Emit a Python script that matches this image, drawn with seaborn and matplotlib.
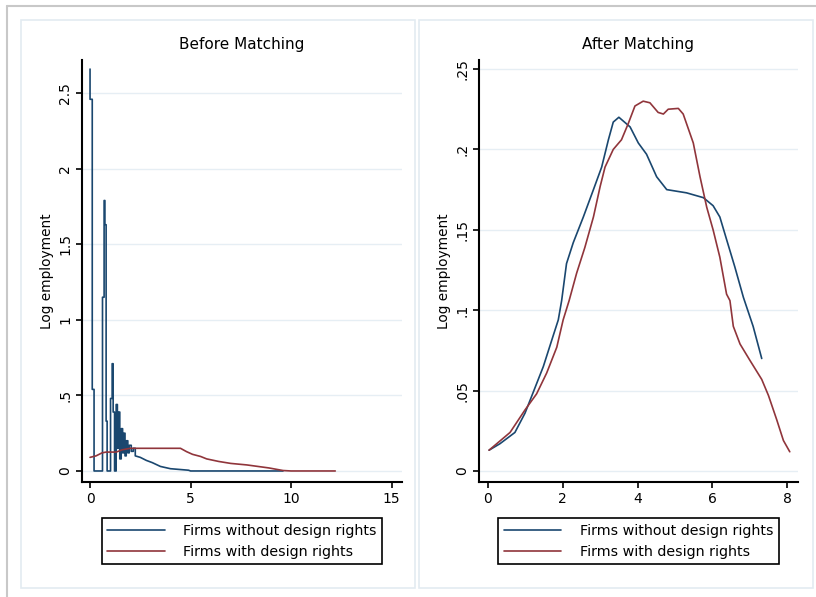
import numpy as np
import pandas as pd
import matplotlib
matplotlib.use("Agg")
import matplotlib.pyplot as plt
from matplotlib.patches import Rectangle
from matplotlib.lines import Line2D
import seaborn as sns

# datos
# Antes del emparejamiento (curva azul con picos)
before_without_x = [0.0, 0.0, 0.11, 0.11, 0.2, 0.2, 0.62, 0.62, 0.7, 0.7, 0.74, 0.74, 0.8, 0.8,
                    0.85, 0.85, 1.02, 1.02, 1.1, 1.1, 1.15, 1.15, 1.22, 1.22, 1.3, 1.3, 1.36, 1.36,
                    1.42, 1.42, 1.48, 1.48, 1.55, 1.55, 1.62, 1.62, 1.68, 1.68, 1.74, 1.74, 1.8, 1.8,
                    1.88, 1.88, 1.95, 1.95, 2.05, 2.05, 2.15, 2.15, 2.25, 2.25, 2.5, 2.8, 3.1, 3.5,
                    4.0, 4.9, 5.0, 9.6]
before_without_y = [2.66, 2.46, 2.46, 0.54, 0.54, 0.0, 0.0, 1.15, 1.15, 1.79, 1.79, 1.63, 1.63, 0.33,
                    0.33, 0.0, 0.0, 0.48, 0.48, 0.71, 0.71, 0.39, 0.39, 0.0, 0.0, 0.44, 0.44, 0.15,
                    0.15, 0.39, 0.39, 0.08, 0.08, 0.28, 0.28, 0.12, 0.12, 0.25, 0.25, 0.1, 0.1, 0.2,
                    0.2, 0.12, 0.12, 0.17, 0.17, 0.13, 0.13, 0.15, 0.15, 0.1, 0.09, 0.07, 0.055, 0.03,
                    0.015, 0.005, 0.0, 0.0]
before_with_x = [0.0, 0.3, 0.6, 0.8, 1.3, 1.6, 2.0, 4.5, 4.8, 5.1, 5.5, 5.8, 6.4, 7.0, 7.8, 8.9,
                 9.6, 10.0, 12.2]
before_with_y = [0.09, 0.1, 0.12, 0.125, 0.125, 0.14, 0.15, 0.15, 0.128, 0.11, 0.096, 0.08, 0.063,
                 0.05, 0.04, 0.02, 0.003, 0.0, 0.0]

# Despues del emparejamiento
after_without_x = [0.03, 0.32, 0.72, 0.99, 1.21, 1.48, 1.7, 1.88, 1.97, 2.1, 2.28, 2.55, 2.82, 3.04,
                   3.22, 3.35, 3.5, 3.8, 4.02, 4.24, 4.51, 4.78, 5.31, 5.76, 6.02, 6.2, 6.38, 6.6,
                   6.83, 7.09, 7.32]
after_without_y = [0.013, 0.017, 0.024, 0.036, 0.049, 0.065, 0.081, 0.094, 0.106, 0.129, 0.142, 0.158,
                   0.175, 0.189, 0.206, 0.217, 0.22, 0.214, 0.204, 0.197, 0.183, 0.175, 0.173, 0.17,
                   0.165, 0.158, 0.144, 0.127, 0.108, 0.09, 0.07]
after_with_x = [0.03, 0.59, 0.99, 1.3, 1.57, 1.84, 2.01, 2.17, 2.37, 2.59, 2.82, 3.0, 3.13, 3.35,
                3.57, 3.75, 3.93, 4.15, 4.33, 4.55, 4.69, 4.82, 5.09, 5.22, 5.49, 5.67, 5.85, 6.02,
                6.2, 6.38, 6.47, 6.56, 6.74, 7.0, 7.32, 7.5, 7.72, 7.9, 8.07]
after_with_y = [0.013, 0.024, 0.038, 0.048, 0.061, 0.077, 0.094, 0.106, 0.123, 0.139, 0.158, 0.177,
                0.189, 0.2, 0.206, 0.216, 0.227, 0.23, 0.229, 0.223, 0.222, 0.225, 0.2255, 0.222,
                0.204, 0.183, 0.164, 0.15, 0.133, 0.11, 0.106, 0.09, 0.079, 0.069, 0.057, 0.047,
                0.032, 0.019, 0.012]

labels = ["Firms without design rights", "Firms with design rights"]
titles = ["Before Matching", "After Matching"]
left_yticks = [0, 0.5, 1, 1.5, 2, 2.5]
left_yticklabels = ["0", ".5", "1", "1.5", "2", "2.5"]
left_xticks = [0, 5, 10, 15]
right_yticks = [0, 0.05, 0.1, 0.15, 0.2, 0.25]
right_yticklabels = ["0", ".05", ".1", ".15", ".2", ".25"]
right_xticks = [0, 2, 4, 6, 8]

BLUE = "#1a476f"
RED = "#90353b"

sns.set_style("white")
plt.rcParams["font.family"] = ["DejaVu Sans"]
plt.rcParams["text.color"] = "black"
plt.rcParams["axes.labelcolor"] = "black"
plt.rcParams["xtick.color"] = "black"
plt.rcParams["ytick.color"] = "black"

fig = plt.figure(figsize=(8.16, 5.97), dpi=100)

# marcos del grafico (solo arriba e izquierda en el exterior)
fig.lines.append(Line2D([6.5 / 816, 1.0], [1 - 5.5 / 597] * 2, transform=fig.transFigure,
                        color="#c8c8c8", linewidth=1.5))
fig.lines.append(Line2D([6.5 / 816] * 2, [0.0, 1 - 5.5 / 597], transform=fig.transFigure,
                        color="#c8c8c8", linewidth=1.5))
for x0 in [21, 419]:
    fig.patches.append(Rectangle((x0 / 816, 1 - 588 / 597), 394 / 816, 568 / 597,
                                 transform=fig.transFigure, fill=False,
                                 edgecolor="#e3ebf1", linewidth=1.2))

ax1 = fig.add_axes([82 / 816, 1 - 482 / 597, 320 / 816, 422 / 597])
ax2 = fig.add_axes([479 / 816, 1 - 482 / 597, 319 / 816, 422 / 597])

panels = [
    (ax1, before_without_x, before_without_y, before_with_x, before_with_y,
     left_xticks, left_yticks, left_yticklabels, (-0.4, 15.52), (-0.073, 2.72)),
    (ax2, after_without_x, after_without_y, after_with_x, after_with_y,
     right_xticks, right_yticks, right_yticklabels, (-0.24, 8.29), (-0.0068, 0.2556)),
]

for i, (ax, bx, by, rx, ry, xt, yt, ytl, xl, yl) in enumerate(panels):
    df_b = pd.DataFrame({"x": bx, "y": by})
    df_r = pd.DataFrame({"x": rx, "y": ry})
    sns.lineplot(data=df_b, x="x", y="y", sort=False, estimator=None, color=BLUE,
                 linewidth=1.2, ax=ax, label=labels[0])
    sns.lineplot(data=df_r, x="x", y="y", sort=False, estimator=None, color=RED,
                 linewidth=1.2, ax=ax, label=labels[1])
    ax.set_xlim(*xl)
    ax.set_ylim(*yl)
    ax.set_xticks(xt)
    ax.set_xticklabels([str(t) for t in xt])
    ax.set_yticks(yt)
    ax.set_yticklabels(ytl, rotation=90, va="center")
    ax.yaxis.grid(True, color="#e6eef4", linewidth=1.0)
    ax.xaxis.grid(False)
    for s in ["top", "right"]:
        ax.spines[s].set_visible(False)
    for s in ["left", "bottom"]:
        ax.spines[s].set_color("black")
        ax.spines[s].set_linewidth(1.5)
    ax.tick_params(axis="both", direction="out", length=4, width=1.2, color="black",
                   labelcolor="black", labelsize=10, pad=3, bottom=True, left=True)
    ax.set_xlabel("")
    ax.set_ylabel("Log employment", fontsize=9.8, labelpad=3, color="black")
    ax.set_title(titles[i], fontsize=11, pad=8, color="black")
    leg = ax.legend(loc="upper center", bbox_to_anchor=(0.5, -0.068), ncol=1, frameon=True,
                    fancybox=False, edgecolor="black", framealpha=1, fontsize=10.3,
                    handlelength=4.0, handletextpad=1.3, borderpad=0.4, labelspacing=0.5)
    leg.get_frame().set_linewidth(1.2)
    for t in leg.get_texts():
        t.set_color("black")

fig.savefig("out.png", dpi=100)
